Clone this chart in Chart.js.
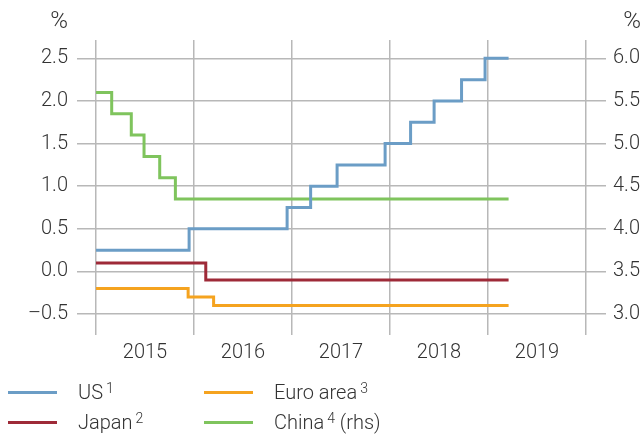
<!DOCTYPE html>
<html>
<head>
<meta charset="utf-8">
<script src="https://cdn.jsdelivr.net/npm/chart.js@4/dist/chart.umd.min.js"></script>
<style>
  html, body { margin: 0; padding: 0; background: #fff; }
  #wrap { position: relative; width: 644px; height: 435px; }
  #legend { position: absolute; left: 0; top: 378px; width: 644px; font-family: Roboto, "Liberation Sans", sans-serif; font-weight: 300; font-size: 20px; color: #333; }
  .item { position: absolute; height: 28px; line-height: 28px; white-space: nowrap; }
  .item .swatch { position: absolute; left: 0; top: 13px; width: 49px; height: 3px; }
  .item .label { position: absolute; left: 70px; top: 0; }
  .item sup { font-size: 14px; vertical-align: 6px; line-height: 0; margin-left: 3px; }
</style>
</head>
<body>
<div id="wrap">
  <canvas id="chart" width="644" height="435"></canvas>
  <div id="legend"></div>
</div>
<script>
// decimal years at which each policy rate changed, plus the last date shown
const usDates = [2015.0, 2015.95, 2016.95, 2017.19, 2017.46, 2017.95, 2018.21, 2018.45, 2018.73, 2018.97, 2019.21];
const usRates = [0.25, 0.5, 0.75, 1.0, 1.25, 1.5, 1.75, 2.0, 2.25, 2.5, 2.5];

const japanDates = [2015.0, 2016.12, 2019.21];
const japanRates = [0.1, -0.1, -0.1];

const euroDates = [2015.0, 2015.94, 2016.2, 2019.21];
const euroRates = [-0.2, -0.3, -0.4, -0.4];

const chinaDates = [2015.0, 2015.16, 2015.36, 2015.49, 2015.65, 2015.81, 2019.21];
const chinaRates = [5.6, 5.35, 5.1, 4.85, 4.6, 4.35, 4.35];

const yearLabels = [2015, 2016, 2017, 2018, 2019];
const leftTicks = [-0.5, 0, 0.5, 1.0, 1.5, 2.0, 2.5];
const rightTicks = [3.0, 3.5, 4.0, 4.5, 5.0, 5.5, 6.0];

const FONT = "Roboto, 'Liberation Sans', sans-serif";
const TEXT = "#333333";
const GRID = "#b8b8b8";

const toPoints = (xs, ys) => xs.map((x, i) => ({ x, y: ys[i] }));

const series = [
  { label: "US", note: "1", color: "#6b9dc6", data: toPoints(usDates, usRates), axis: "y" },
  { label: "Japan", note: "2", color: "#9e2a38", data: toPoints(japanDates, japanRates), axis: "y" },
  { label: "Euro area", note: "3", color: "#f5a31f", data: toPoints(euroDates, euroRates), axis: "y" },
  { label: "China", note: "4", extra: " (rhs)", color: "#7fc45d", data: toPoints(chinaDates, chinaRates), axis: "y1" }
];

// "%" unit labels above both value axes
const unitPlugin = {
  id: "units",
  afterDraw(chart) {
    const ctx = chart.ctx;
    ctx.save();
    ctx.font = "300 24px " + FONT;
    ctx.fillStyle = TEXT;
    ctx.textBaseline = "middle";
    ctx.textAlign = "right";
    ctx.fillText("%", 68, 22);
    ctx.fillText("%", 641, 22);
    ctx.restore();
  }
};

new Chart(document.getElementById("chart"), {
  type: "line",
  data: {
    datasets: series.map(s => ({
      label: s.label,
      data: s.data,
      yAxisID: s.axis,
      borderColor: s.color,
      backgroundColor: s.color,
      borderWidth: 3,
      stepped: "before",
      pointRadius: 0,
      fill: false
    }))
  },
  options: {
    responsive: false,
    animation: false,
    layout: { padding: { top: 40, left: 0, right: 0, bottom: 0 } },
    plugins: { legend: { display: false }, tooltip: { enabled: false } },
    scales: {
      x: {
        type: "linear",
        min: 2014.806,
        max: 2020.204,
        afterBuildTicks: scale => {
          const t = [];
          yearLabels.forEach(y => { t.push({ value: y }); t.push({ value: y + 0.5 }); });
          t.push({ value: yearLabels[yearLabels.length - 1] + 1 });
          scale.ticks = t;
        },
        afterFit: scale => { scale.height = 100; },
        grid: {
          color: c => (c.tick && c.tick.value % 1 === 0) ? GRID : "rgba(0,0,0,0)",
          lineWidth: 1.5,
          drawTicks: false
        },
        border: { display: false },
        ticks: {
          autoSkip: false,
          maxRotation: 0,
          padding: 6,
          color: TEXT,
          font: { family: FONT, size: 20, weight: "300" },
          callback: v => (v % 1 === 0.5) ? String(Math.floor(v)) : ""
        }
      },
      y: {
        position: "left",
        min: -0.745,
        max: 2.715,
        afterBuildTicks: scale => { scale.ticks = leftTicks.map(v => ({ value: v })); },
        afterFit: scale => { scale.width = 77; },
        grid: { color: GRID, lineWidth: 1.5, drawTicks: false },
        border: { display: false },
        ticks: {
          padding: 9,
          color: TEXT,
          font: { family: FONT, size: 20, weight: "300" },
          callback: v => (v < 0 ? "\u2013" : "") + Math.abs(v).toFixed(1)
        }
      },
      y1: {
        position: "right",
        min: 2.755,
        max: 6.215,
        afterBuildTicks: scale => { scale.ticks = rightTicks.map(v => ({ value: v })); },
        afterFit: scale => { scale.width = 38; },
        grid: { display: false, drawTicks: false },
        border: { display: false },
        ticks: {
          padding: 7,
          color: TEXT,
          font: { family: FONT, size: 20, weight: "300" },
          callback: v => v.toFixed(1)
        }
      }
    }
  },
  plugins: [unitPlugin]
});

// two-column legend under the chart
const legend = document.getElementById("legend");
const spots = [[8, 0], [8, 30], [204, 0], [204, 30]];
[0, 1, 2, 3].forEach((idx, k) => {
  const s = series[idx];
  const el = document.createElement("div");
  el.className = "item";
  el.style.left = spots[k][0] + "px";
  el.style.top = spots[k][1] + "px";
  el.innerHTML = '<span class="swatch" style="background:' + s.color + '"></span>' +
    '<span class="label">' + s.label + "<sup>" + s.note + "</sup>" + (s.extra || "") + "</span>";
  legend.appendChild(el);
});
</script>
</body>
</html>
